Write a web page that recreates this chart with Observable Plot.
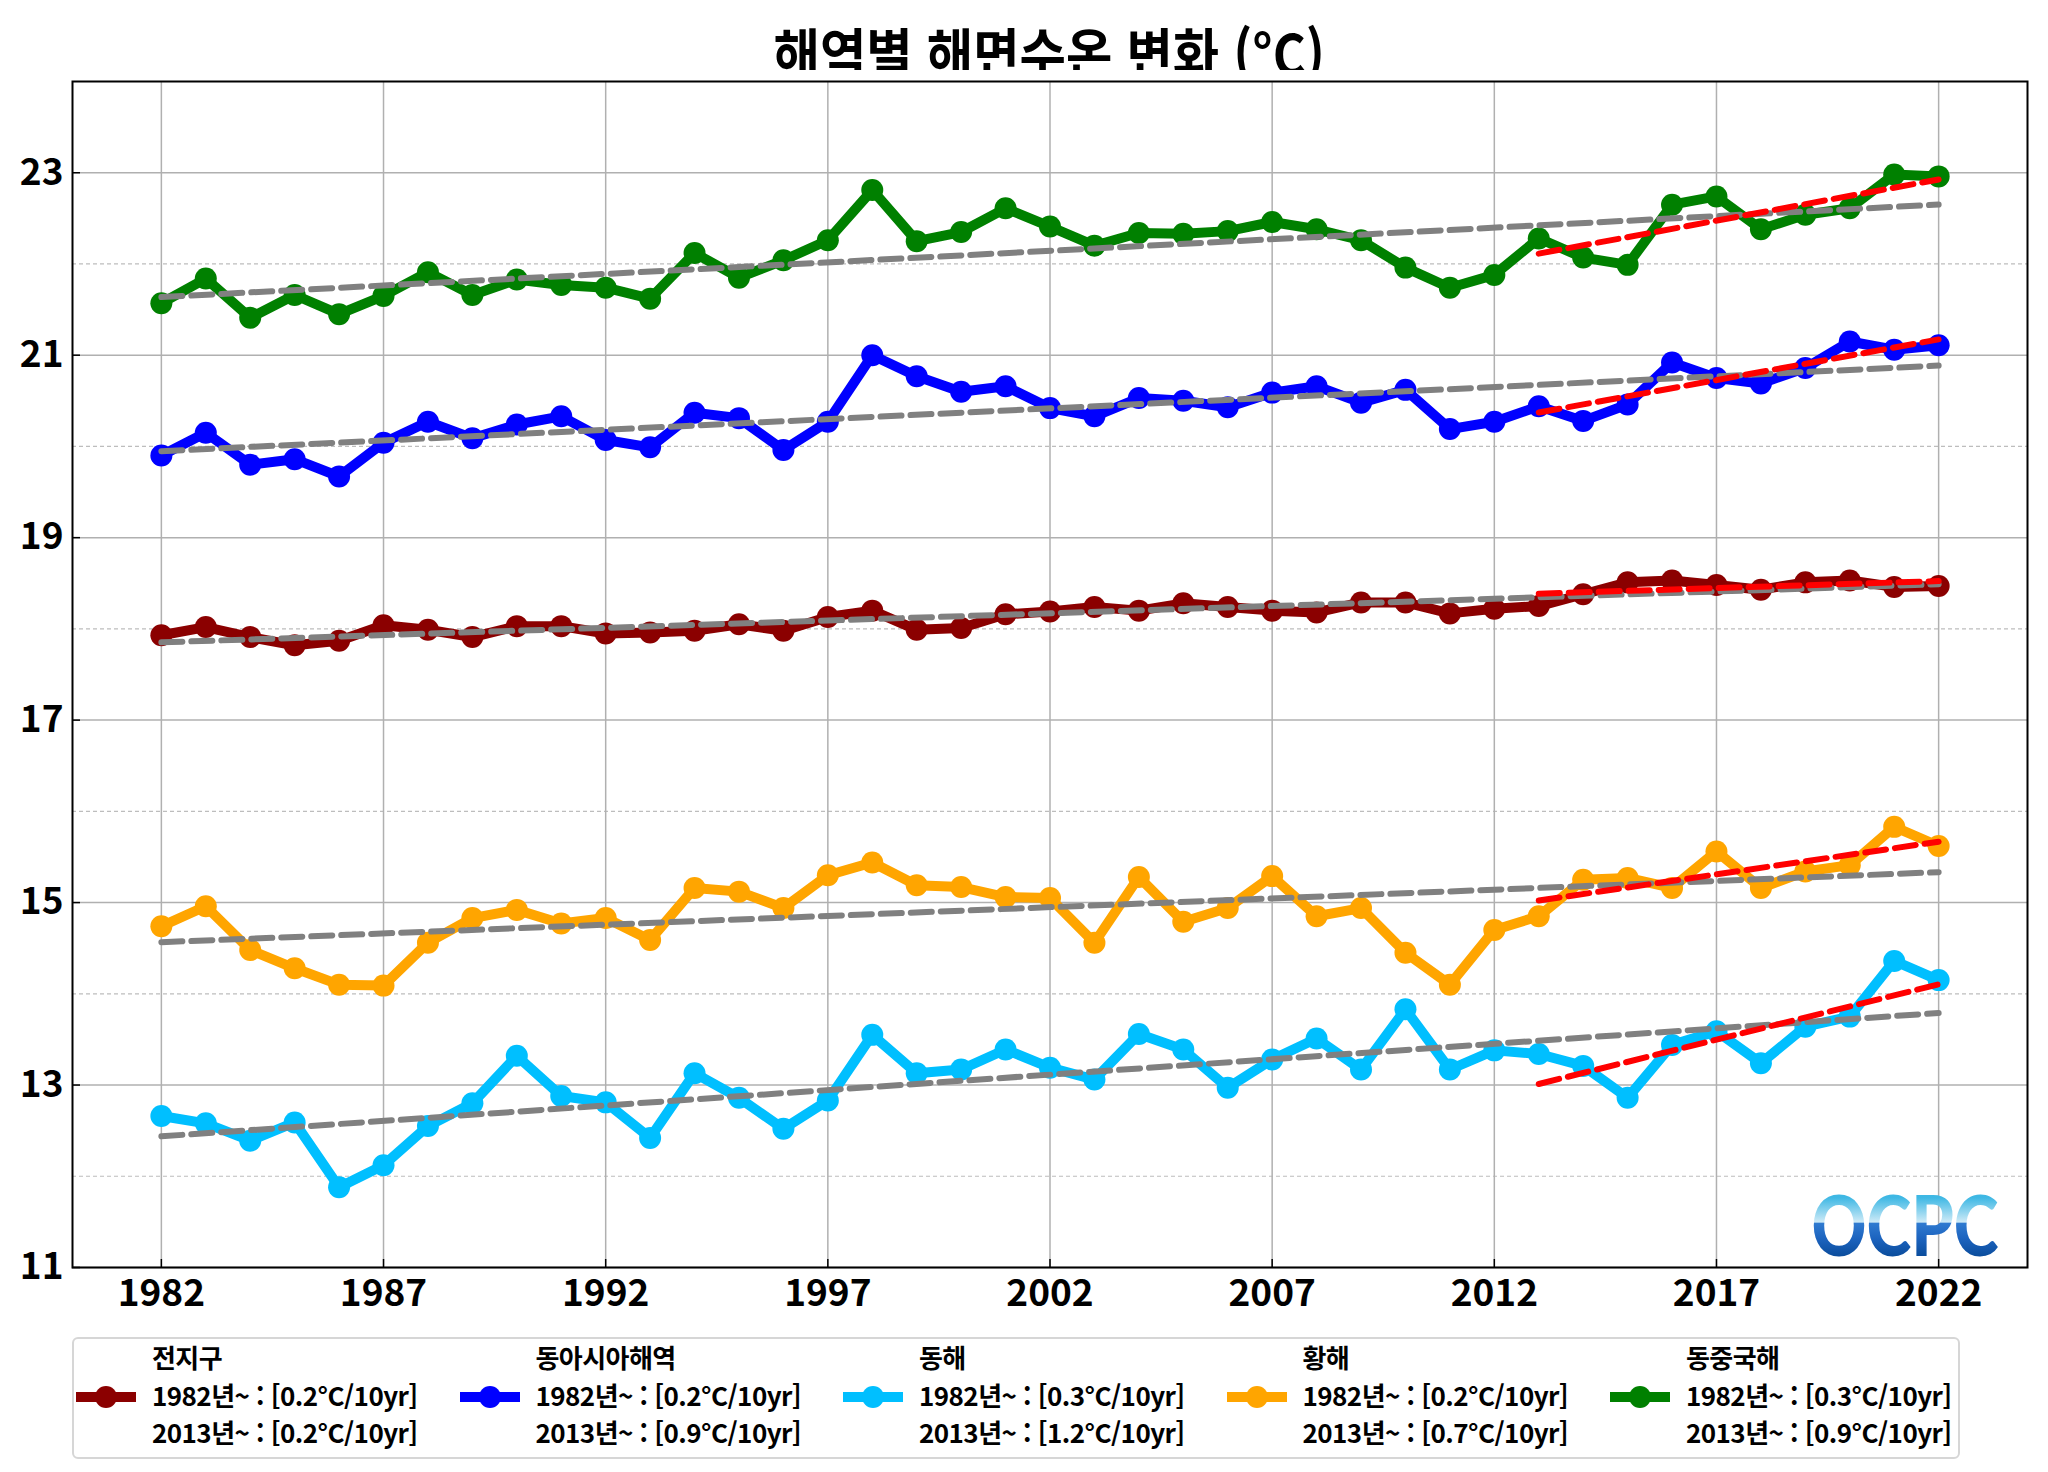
<!DOCTYPE html>
<html lang="ko">
<head>
<meta charset="utf-8">
<title>해역별 해면수온 변화</title>
<script src="https://cdn.jsdelivr.net/npm/d3@7"></script>
<script src="https://cdn.jsdelivr.net/npm/@observablehq/plot@0.6"></script>
<style>
  body { margin: 0; background: #fff; }
  #page { position: relative; width: 2048px; height: 1472px; font-family: "Noto Sans CJK KR", sans-serif; color: #000; }
  #title { position: absolute; left: 72px; width: 1955px; top: 18px; line-height: 66px; text-align: center; }
  #title span { display: inline-block; font-size: 56px; font-weight: bold; transform: scaleX(0.9); transform-origin: center; }
  #chart { position: absolute; left: 0; top: 70px; }
  #legend { position: absolute; left: 72px; top: 1337px; width: 1888px; height: 122px; box-sizing: border-box; border: 2px solid #d6d6d6; border-radius: 6px; background: #fff; }
  .col { position: absolute; top: 0; height: 100%; width: 380px; }
  .lg-t { position: absolute; white-space: nowrap; font-size: 26px; letter-spacing: -0.55px; font-weight: bold; line-height: 38px; }
</style>
</head>
<body>
<div id="page">
  <div id="title"><span>해역별 해면수온 변화 (°C)</span></div>
  <div id="chart"></div>
  <div id="legend"></div>
</div>
<script>
// Annual mean sea surface temperature (°C), 1982–2022
const years = [1982, 1983, 1984, 1985, 1986, 1987, 1988, 1989, 1990, 1991,
               1992, 1993, 1994, 1995, 1996, 1997, 1998, 1999, 2000, 2001,
               2002, 2003, 2004, 2005, 2006, 2007, 2008, 2009, 2010, 2011,
               2012, 2013, 2014, 2015, 2016, 2017, 2018, 2019, 2020, 2021, 2022];

const seriesNames  = ["전지구", "동아시아해역", "동해", "황해", "동중국해"];
const seriesColors = ["#8b0000", "#0000ff", "#00bfff", "#ffa500", "#008000"];

const globalSST = [17.93, 18.02, 17.91, 17.82, 17.87, 18.04, 17.99, 17.91, 18.03, 18.03,
                   17.95, 17.96, 17.98, 18.05, 17.98, 18.13, 18.20, 17.99, 18.01, 18.16,
                   18.19, 18.24, 18.20, 18.28, 18.24, 18.20, 18.18, 18.29, 18.29, 18.17,
                   18.22, 18.25, 18.38, 18.51, 18.53, 18.48, 18.43, 18.51, 18.53, 18.46, 18.47];

const eastAsiaSST = [19.90, 20.15, 19.80, 19.86, 19.67, 20.04, 20.27, 20.09, 20.24, 20.33,
                     20.07, 19.99, 20.37, 20.31, 19.96, 20.27, 21.00, 20.77, 20.60, 20.66,
                     20.42, 20.33, 20.53, 20.50, 20.43, 20.59, 20.66, 20.48, 20.62, 20.19,
                     20.27, 20.44, 20.28, 20.46, 20.92, 20.75, 20.69, 20.86, 21.15, 21.06, 21.11];

const eastSeaSST = [12.66, 12.58, 12.39, 12.59, 11.88, 12.12, 12.55, 12.80, 13.32, 12.88,
                    12.81, 12.42, 13.13, 12.86, 12.52, 12.83, 13.55, 13.13, 13.17, 13.39,
                    13.19, 13.06, 13.56, 13.39, 12.97, 13.28, 13.51, 13.17, 13.83, 13.17,
                    13.38, 13.34, 13.21, 12.86, 13.44, 13.59, 13.24, 13.64, 13.75, 14.36, 14.15];

const yellowSeaSST = [14.74, 14.96, 14.48, 14.28, 14.10, 14.09, 14.56, 14.83, 14.92, 14.77,
                      14.83, 14.59, 15.16, 15.12, 14.94, 15.30, 15.44, 15.19, 15.17, 15.06,
                      15.05, 14.56, 15.28, 14.79, 14.94, 15.29, 14.85, 14.94, 14.45, 14.10,
                      14.70, 14.85, 15.25, 15.27, 15.16, 15.56, 15.16, 15.34, 15.41, 15.83, 15.62];

const eastChinaSeaSST = [21.57, 21.84, 21.41, 21.66, 21.45, 21.65, 21.91, 21.66, 21.83, 21.77,
                         21.74, 21.62, 22.12, 21.85, 22.04, 22.26, 22.81, 22.25, 22.35, 22.61,
                         22.41, 22.20, 22.34, 22.33, 22.36, 22.46, 22.38, 22.26, 21.96, 21.74,
                         21.88, 22.28, 22.07, 21.99, 22.65, 22.74, 22.38, 22.54, 22.61, 22.98, 22.96];

// Trend per decade quoted in the legend
const trendSince1982 = ["0.2", "0.2", "0.3", "0.2", "0.3"];
const trendSince2013 = ["0.2", "0.9", "1.2", "0.7", "0.9"];
const recentStart = 2013;

const xTicks = [1982, 1987, 1992, 1997, 2002, 2007, 2012, 2017, 2022];
const yTicks = [11, 13, 15, 17, 19, 21, 23];
const yMinorTicks = [12, 14, 16, 18, 20, 22];

const seriesValues = [globalSST, eastAsiaSST, eastSeaSST, yellowSeaSST, eastChinaSeaSST];
const rows = seriesNames.flatMap((name, i) =>
  years.map((year, j) => ({series: name, year, value: seriesValues[i][j]})));
const recentRows = rows.filter(d => d.year >= recentStart);

const dashed = {strokeWidth: 6, strokeDasharray: "21,9"};

const chart = Plot.plot({
  width: 2048,
  height: 1252,
  marginTop: 11,
  marginBottom: 55,
  marginLeft: 72,
  marginRight: 21,
  style: {fontFamily: '"Noto Sans CJK KR", sans-serif', fontSize: "37px", fontWeight: "bold", background: "white", color: "black"},
  x: {domain: [1980, 2024]},
  y: {domain: [11, 24]},
  color: {domain: seriesNames, range: seriesColors},
  marks: [
    Plot.gridY(yMinorTicks, {stroke: "#bdbdbd", strokeOpacity: 1, strokeWidth: 1.2, strokeDasharray: "4,3"}),
    Plot.gridY(yTicks, {stroke: "#b0b0b0", strokeOpacity: 1, strokeWidth: 1.5}),
    Plot.gridX(xTicks, {stroke: "#b0b0b0", strokeOpacity: 1, strokeWidth: 1.5}),
    Plot.line(rows, {x: "year", y: "value", z: "series", stroke: "series", strokeWidth: 10, strokeLinejoin: "round"}),
    Plot.dot(rows, {x: "year", y: "value", fill: "series", r: 11}),
    Plot.linearRegressionY(rows, {x: "year", y: "value", z: "series", stroke: "#808080", ci: 0, ...dashed}),
    Plot.linearRegressionY(recentRows, {x: "year", y: "value", z: "series", stroke: "#ff0000", ci: 0, ...dashed}),
    Plot.text(["OCPC"], {
      text: d => d, frameAnchor: "bottom-right", textAnchor: "end", lineAnchor: "bottom",
      dx: -29, dy: -12, fontSize: 84, fontWeight: 900, fontFamily: "Lato, 'Noto Sans', sans-serif",
      fill: "url(#ocpcFill)", className: "ocpc-logo"
    }),
    Plot.axisX(xTicks, {tickSize: 0, tickPadding: 12, tickFormat: d => String(d), label: null}),
    Plot.axisX(xTicks, {tickSize: 8, dy: -8, fill: "none", label: null, strokeWidth: 1.5}),
    Plot.axisY(yTicks, {tickSize: 0, tickPadding: 9, tickFormat: d => String(d), label: null}),
    Plot.axisY(yTicks, {tickSize: 8, dx: 8, fill: "none", label: null, strokeWidth: 1.5}),
    Plot.frame({stroke: "black", strokeWidth: 2})
  ]
});

// Gradient fill for the logo lettering
const grad = d3.select(chart).insert("defs", ":first-child")
  .append("linearGradient").attr("id", "ocpcFill")
  .attr("x1", 0).attr("y1", 0).attr("x2", 0).attr("y2", 1);
[[0, "#35b3e2"], [0.25, "#3fb8e4"], [0.49, "#cdeaf7"], [0.505, "#2f7ad0"], [0.65, "#1d64bf"], [0.83, "#0a4c9c"], [1, "#0a4c9c"]]
  .forEach(([o, c]) => grad.append("stop").attr("offset", o).attr("stop-color", c));
d3.select(chart).selectAll(".ocpc-logo text")
  .attr("textLength", 187).attr("lengthAdjust", "spacingAndGlyphs");

document.getElementById("chart").appendChild(chart);

// Legend: one column per sea area
const legend = d3.select("#legend");
seriesNames.forEach((name, i) => {
  const col = legend.append("div").attr("class", "col").style("left", `${i * 383.5}px`);
  const sw = col.append("svg").attr("width", 62).attr("height", 24)
    .style("position", "absolute").style("left", "1px").style("top", "46px");
  sw.append("line").attr("x1", 1).attr("x2", 61).attr("y1", 12).attr("y2", 12)
    .attr("stroke", seriesColors[i]).attr("stroke-width", 10);
  sw.append("circle").attr("cx", 31).attr("cy", 12).attr("r", 11).attr("fill", seriesColors[i]);
  col.append("div").attr("class", "lg-t").style("left", "78px").style("top", "-1px").text(name);
  col.append("div").attr("class", "lg-t").style("left", "78px").style("top", "37px")
    .text(`1982년~ : [${trendSince1982[i]}°C/10yr]`);
  col.append("div").attr("class", "lg-t").style("left", "78px").style("top", "74px")
    .text(`2013년~ : [${trendSince2013[i]}°C/10yr]`);
});
</script>
</body>
</html>
